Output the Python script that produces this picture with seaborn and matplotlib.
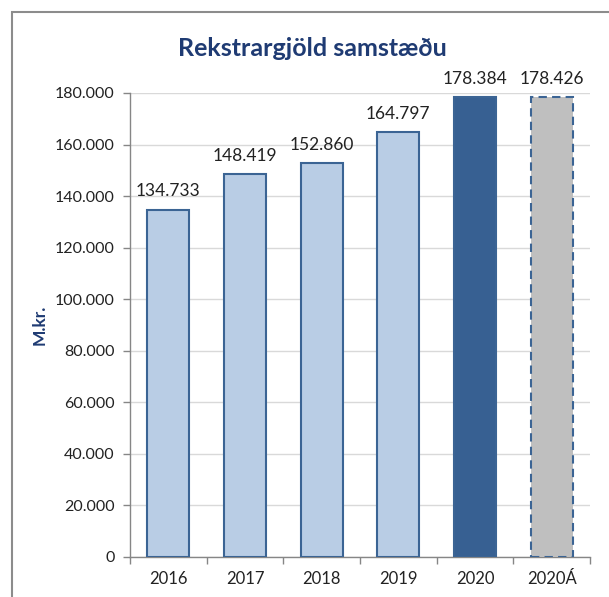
import numpy as np
import pandas as pd
import seaborn as sns
import matplotlib.pyplot as plt
from matplotlib.patches import Rectangle

years = ['2016', '2017', '2018', '2019', '2020', '2020Á']
values = [134733, 148419, 152860, 164797, 178384, 178426]
labels = ['134.733', '148.419', '152.860', '164.797', '178.384', '178.426']

face = ['#b9cde5', '#b9cde5', '#b9cde5', '#b9cde5', '#376092', '#bfbfbf']
edge = '#3b6494'

sns.set_style('white')
plt.rcParams['font.family'] = ['Lato', 'DejaVu Sans']

df = pd.DataFrame({'year': years, 'value': values})

fig = plt.figure(figsize=(6.09, 5.97), dpi=100)
ax = fig.add_axes([130 / 609, 1 - 557 / 597, 460 / 609, 464 / 597])

sns.barplot(data=df, x='year', y='value', hue='year', palette=face, legend=False,
            width=0.55, saturation=1, ax=ax, zorder=3)

for i, p in enumerate(ax.patches):
    p.set_edgecolor(edge)
    p.set_linewidth(1.5)
    if i == 5:
        p.set_linestyle((0, (4, 2.5)))
    ax.text(p.get_x() + p.get_width() / 2, p.get_height() + 4000, labels[i],
            ha='center', va='bottom', fontsize=12.5, color='#222222')

ax.set_ylim(0, 180000)
ax.set_xlim(-0.5, 5.5)
yt = np.arange(0, 180001, 20000)
ax.set_yticks(yt)
ax.set_yticklabels(['0' if v == 0 else f'{v // 1000}.000' for v in yt], fontsize=11.5, color='#222222')
ax.set_xticks(range(6))
ax.set_xticklabels(years, fontsize=12, color='#222222')
ax.set_xticks(np.arange(-0.5, 6, 1), minor=True)
ax.tick_params(axis='x', which='major', bottom=True, length=0, pad=10)
ax.tick_params(axis='x', which='minor', bottom=True, length=5, color='#868686', width=1)
ax.tick_params(axis='y', left=True, length=5, color='#868686', width=1, pad=6)
ax.grid(axis='y', color='#d9d9d9', linewidth=1, zorder=0)
ax.set_axisbelow(True)
for s in ['top', 'right']:
    ax.spines[s].set_visible(False)
for s in ['left', 'bottom']:
    ax.spines[s].set_color('#868686')
    ax.spines[s].set_linewidth(1)
ax.set_xlabel('')
ax.set_ylabel('')

fig.text(40 / 609, 1 - 325 / 597, 'M.kr.', rotation=90, ha='center', va='center',
         fontsize=12.5, fontweight='bold', color='#1f3b73')
fig.text(312 / 609, 1 - 48 / 597, 'Rekstrargjöld samstæðu', ha='center', va='center',
         fontsize=18, fontweight='bold', color='#1f3b73')

# outer frame (left and top edges visible)
fig.patches.append(Rectangle((12 / 609, -0.1), 1.2, 1 - 12 / 597 + 0.1, transform=fig.transFigure,
                             fill=False, edgecolor='#8c8c8c', linewidth=1.5))

fig.savefig('out.png', dpi=100)
